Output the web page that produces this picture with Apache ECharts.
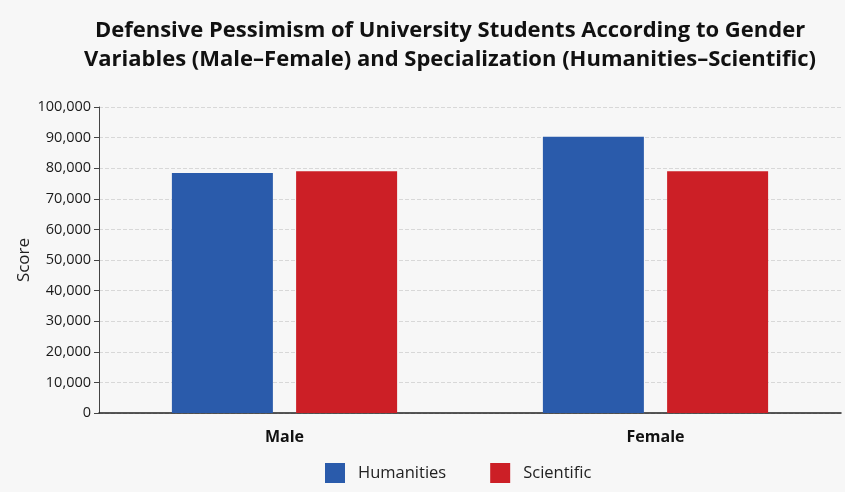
<!DOCTYPE html>
<html>
<head>
<meta charset="utf-8">
<script src="https://cdn.jsdelivr.net/npm/echarts@6/dist/echarts.min.js"></script>
<style>
  html, body { margin: 0; padding: 0; background: #f7f7f7; }
  #chart { width: 845px; height: 492px; }
</style>
</head>
<body>
<div id="chart"></div>
<script>
const categories = ['Male', 'Female'];
const humanities = [78400, 90300];
const scientific = [79000, 79000];
const seriesNames = ['Humanities', 'Scientific'];

const chart = echarts.init(document.getElementById('chart'), null, { renderer: 'canvas' });

const option = {
  backgroundColor: '#f7f7f7',
  textStyle: { fontFamily: 'Open Sans' },
  title: {
    text: 'Defensive Pessimism of University Students According to Gender\nVariables (Male\u2013Female) and Specialization (Humanities\u2013Scientific)',
    left: 445,
    textAlign: 'center',
    top: 11,
    textStyle: {
      fontFamily: 'Open Sans',
      fontSize: 22,
      fontWeight: 'bold',
      color: '#111',
      lineHeight: 29
    }
  },
  legend: {
    bottom: 4,
    left: 320,
    itemWidth: 20,
    itemHeight: 20,
    itemGap: 44,
    icon: 'rect',
    textStyle: { fontSize: 16.5, color: '#222', padding: [0, 0, 0, 8] },
    data: seriesNames
  },
  grid: { left: 99, right: 4, top: 107, bottom: 79 },
  xAxis: {
    type: 'category',
    data: categories,
    axisLine: { lineStyle: { color: '#222', width: 1.5 } },
    axisTick: { show: false },
    axisLabel: { fontSize: 16, fontWeight: 'bold', color: '#111', margin: 16 }
  },
  yAxis: {
    type: 'value',
    min: 0,
    max: 100000,
    interval: 10000,
    name: 'Score',
    nameLocation: 'middle',
    nameGap: 66,
    nameMoveOverlap: false,
    nameTextStyle: { fontSize: 17, color: '#222' },
    axisLine: { show: true, lineStyle: { color: '#444' } },
    axisTick: { show: true, length: 5, lineStyle: { color: '#444' } },
    axisLabel: {
      fontSize: 14.5,
      color: '#1a1a1a',
      margin: 8,
      formatter: v => v.toLocaleString('en-US')
    },
    splitLine: { lineStyle: { color: '#d8d8d8', type: 'dashed' } }
  },
  series: [
    {
      name: seriesNames[0],
      type: 'bar',
      data: humanities,
      barWidth: 101,
      barGap: '23%',
      itemStyle: { color: '#2a5bab' }
    },
    {
      name: seriesNames[1],
      type: 'bar',
      data: scientific,
      barWidth: 101,
      itemStyle: { color: '#cc1f26' }
    }
  ]
};

chart.setOption(option);
</script>
</body>
</html>
